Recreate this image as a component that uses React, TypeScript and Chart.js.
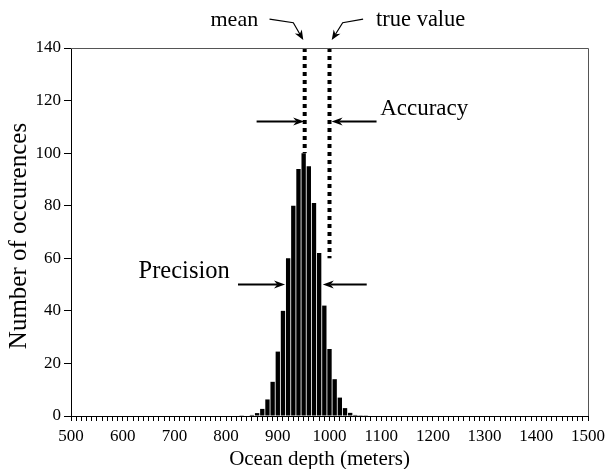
import { useEffect, useRef } from "react";
import { Chart, registerables } from "chart.js";

Chart.register(...registerables);

// ---- data ----
const depthBins = [830, 840, 850, 860, 870, 880, 890, 900, 910, 920, 930, 940, 950, 960, 970, 980, 990, 1000, 1010, 1020, 1030, 1040, 1050, 1060, 1070];
const occurrences = [0.1, 0.2, 0.4, 1.1, 2.7, 6.3, 13, 24.5, 40, 60, 80, 94, 100, 95, 81, 62, 42, 25.5, 14, 7, 3, 1.2, 0.4, 0.3, 0.1];

const xMin = 500;
const xMax = 1500;
const xMinorStep = 10;
const xMajorStep = 100;
const yMin = 0;
const yMax = 140;
const yStep = 20;

const xTitle = "Ocean depth (meters)";
const yTitle = "Number of occurences";

const meanDepth = 952;
const trueDepth = 1000;
const meanLineCounts = [140, 100];
const trueLineCounts = [140, 60];

// annotation arrows in data units: [fromDepth, toDepth]
const precisionArrowCount = 50;
const precisionArrows = [[823, 914], [1072, 987]];
const accuracyArrowCount = 112;
const accuracyArrows = [[859, 951], [1091, 1004]];
// pointer polylines [depth, count]
const meanPointer = [[884, 151], [930, 149.6], [949.3, 143]];
const truePointer = [[1065, 151], [1025.5, 149.6], [1004.3, 143]];

const annotationTexts = [
  { text: "mean", depth: 862, count: 148.3, align: "right", size: 22 },
  { text: "true value", depth: 1090, count: 148.3, align: "left", size: 22.5 },
  { text: "Precision", depth: 807, count: 52.5, align: "right", size: 24.5 },
  { text: "Accuracy", depth: 1098, count: 114.5, align: "left", size: 23 },
];

const SERIF = '"Liberation Serif", "Times New Roman", serif';

function drawArrow(ctx: CanvasRenderingContext2D, pts: number[][], lw: number, headLen: number, headW: number) {
  const n = pts.length;
  const [tx, ty] = pts[n - 1];
  const [px, py] = pts[n - 2];
  const dx = tx - px;
  const dy = ty - py;
  const len = Math.hypot(dx, dy) || 1;
  const ux = dx / len;
  const uy = dy / len;
  const nx = -uy;
  const ny = ux;
  const notchX = tx - ux * headLen * 0.7;
  const notchY = ty - uy * headLen * 0.7;
  ctx.lineWidth = lw;
  ctx.beginPath();
  ctx.moveTo(pts[0][0], pts[0][1]);
  for (let i = 1; i < n - 1; i++) ctx.lineTo(pts[i][0], pts[i][1]);
  ctx.lineTo(notchX, notchY);
  ctx.stroke();
  ctx.beginPath();
  ctx.moveTo(tx, ty);
  ctx.lineTo(tx - ux * headLen + nx * headW, ty - uy * headLen + ny * headW);
  ctx.lineTo(notchX, notchY);
  ctx.lineTo(tx - ux * headLen - nx * headW, ty - uy * headLen - ny * headW);
  ctx.closePath();
  ctx.fill();
}

const annotationPlugin = {
  id: "annotations",
  afterDatasetsDraw(chart: any) {
    const { ctx, chartArea, scales } = chart;
    const xs = scales.x;
    const ys = scales.y;
    const X = (v: number) => xs.getPixelForValue(v);
    const Y = (v: number) => ys.getPixelForValue(v);
    ctx.save();
    // frame (top & right)
    ctx.strokeStyle = "#555";
    ctx.lineWidth = 1;
    ctx.beginPath();
    ctx.moveTo(chartArea.left, Math.round(chartArea.top) + 0.5);
    ctx.lineTo(Math.round(chartArea.right) + 0.5, Math.round(chartArea.top) + 0.5);
    ctx.lineTo(Math.round(chartArea.right) + 0.5, chartArea.bottom);
    ctx.stroke();

    ctx.strokeStyle = "#000";
    ctx.fillStyle = "#000";
    ctx.lineCap = "butt";
    precisionArrows.forEach(([a, b]) => {
      drawArrow(ctx, [[X(a), Y(precisionArrowCount)], [X(b), Y(precisionArrowCount)]], 2, 11, 4);
    });
    accuracyArrows.forEach(([a, b]) => {
      drawArrow(ctx, [[X(a), Y(accuracyArrowCount)], [X(b), Y(accuracyArrowCount)]], 2, 11, 4);
    });
    [meanPointer, truePointer].forEach((p) => {
      drawArrow(ctx, p.map(([d, c]) => [X(d), Y(c)]), 1.2, 10, 4);
    });

    ctx.textBaseline = "alphabetic";
    annotationTexts.forEach((t) => {
      ctx.font = `${t.size}px ${SERIF}`;
      ctx.textAlign = t.align as CanvasTextAlign;
      ctx.fillText(t.text, X(t.depth), Y(t.count));
    });

    // axis titles
    ctx.textAlign = "center";
    ctx.textBaseline = "middle";
    ctx.font = `21px ${SERIF}`;
    ctx.fillText(xTitle, (chartArea.left + chartArea.right) / 2 - 10, chart.height - 10);
    ctx.save();
    ctx.translate(19, (chartArea.top + chartArea.bottom) / 2 + 4);
    ctx.rotate(-Math.PI / 2);
    ctx.font = `25px ${SERIF}`;
    ctx.fillText(yTitle, 0, 0);
    ctx.restore();
    ctx.restore();
  },
};

export default function App() {
  const canvasRef = useRef<HTMLCanvasElement | null>(null);

  useEffect(() => {
    if (!canvasRef.current) return;
    const chart = new Chart(canvasRef.current, {
      type: "bar",
      data: {
        datasets: [
          {
            type: "bar",
            data: depthBins.map((d, i) => ({ x: d, y: occurrences[i] })),
            backgroundColor: "#000",
            borderWidth: 0,
            barPercentage: 0.84,
            categoryPercentage: 1,
            order: 0,
          } as any,
          {
            type: "line",
            data: meanLineCounts.map((c) => ({ x: meanDepth, y: c })),
            borderColor: "#000",
            borderWidth: 4,
            borderDash: [4, 4],
            borderCapStyle: "butt",
            pointRadius: 0,
            fill: false,
            order: 1,
          } as any,
          {
            type: "line",
            data: trueLineCounts.map((c) => ({ x: trueDepth, y: c })),
            borderColor: "#000",
            borderWidth: 4,
            borderDash: [4, 4],
            borderCapStyle: "butt",
            pointRadius: 0,
            fill: false,
            order: 1,
          } as any,
        ],
      },
      options: {
        animation: false,
        responsive: true,
        maintainAspectRatio: false,
        layout: { padding: { top: 48, right: 20, left: 0, bottom: 0 } },
        plugins: { legend: { display: false }, tooltip: { enabled: false } },
        scales: {
          x: {
            type: "linear",
            min: xMin,
            max: xMax,
            offset: false,
            grid: { offset: false, drawOnChartArea: false, drawTicks: true, tickLength: 5, color: "#000", lineWidth: 1 },
            border: { color: "#000", width: 1 },
            ticks: {
              stepSize: xMinorStep,
              autoSkip: false,
              maxRotation: 0,
              minRotation: 0,
              padding: 5,
              color: "#000",
              font: { family: SERIF, size: 17 },
              callback: (v: any) => (Number(v) % xMajorStep === 0 ? String(v) : ""),
            },
            title: { display: false, text: xTitle },
            afterFit: (s: any) => {
              s.height = 53;
              s.paddingRight = 0;
              s.paddingLeft = 0;
            },
          },
          y: {
            min: yMin,
            max: yMax,
            grid: { drawOnChartArea: false, drawTicks: true, tickLength: 7, color: "#000", lineWidth: 1 },
            border: { color: "#000", width: 1 },
            ticks: {
              stepSize: yStep,
              padding: 3,
              color: "#000",
              font: { family: SERIF, size: 17 },
            },
            title: { display: false, text: yTitle },
            afterFit: (s: any) => {
              s.width = 71;
            },
          },
        },
      } as any,
      plugins: [annotationPlugin],
    });
    return () => chart.destroy();
  }, []);

  return (
    <div style={{ position: "absolute", left: 0, top: 0, width: 608, height: 469 }}>
      <canvas ref={canvasRef} />
    </div>
  );
}
